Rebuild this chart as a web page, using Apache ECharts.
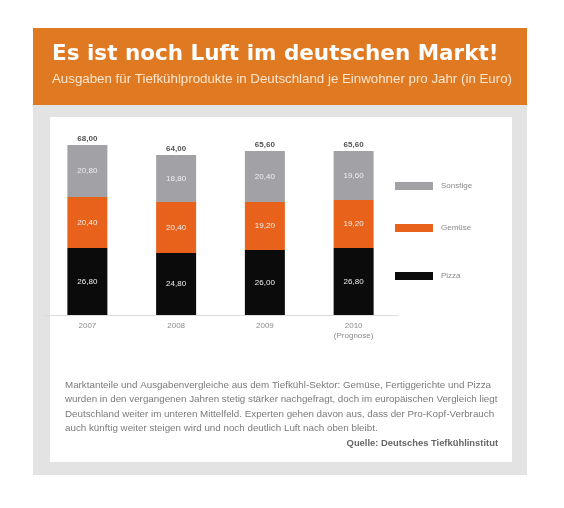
<!DOCTYPE html>
<html>
<head>
<meta charset="utf-8">
<script src="https://cdn.jsdelivr.net/npm/echarts@6/dist/echarts.min.js"></script>
<style>
  html, body { margin: 0; padding: 0; background: #fff; }
  #main { width: 564px; height: 508px; }
</style>
</head>
<body>
<div id="main"></div>
<script>
// Daten (Werte aus dem Bild geschätzt)
var jahre = ["2007", "2008", "2009", "2010\n(Prognose)"];
var pizza = [26.8, 24.8, 26.0, 26.8];
var gemuese = [20.4, 20.4, 19.2, 19.2];
var sonstige = [20.8, 18.8, 20.4, 19.6];
var legendeNamen = ["Sonstige", "Gemüse", "Pizza"];
var fussText = [
  "Marktanteile und Ausgabenvergleiche aus dem Tiefkühl-Sektor: Gemüse, Fertiggerichte und Pizza",
  "wurden in den vergangenen Jahren stetig stärker nachgefragt, doch im europäischen Vergleich liegt",
  "Deutschland weiter im unteren Mittelfeld. Experten gehen davon aus, dass der Pro-Kopf-Verbrauch",
  "auch künftig weiter steigen wird und noch deutlich Luft nach oben bleibt."
];
var quelle = "Quelle: Deutsches Tiefkühlinstitut";

var summen = pizza.map(function(v, i) { return v + gemuese[i] + sonstige[i]; });

function fmt(v) { return v.toFixed(2).replace(".", ","); }

var schrift = "Liberation Sans, Arial, sans-serif";
var myChart = echarts.init(document.getElementById("main"));

var graphics = [
  { type: "rect", shape: { x: 33, y: 28, width: 494, height: 447 }, style: { fill: "#e3e3e3" }, z: -10 },
  { type: "rect", shape: { x: 33, y: 28, width: 494, height: 77 }, style: { fill: "#e07a22" }, z: -9 },
  { type: "rect", shape: { x: 50, y: 117, width: 462, height: 345 }, style: { fill: "#ffffff" }, z: -9 },
  {
    type: "text", left: 52, top: 43, z: 10,
    style: { text: "Es ist noch Luft im deutschen Markt!", fill: "#fff", font: "bold 21.5px DejaVu Sans, sans-serif" }
  },
  {
    type: "text", left: 52, top: 73, z: 10,
    style: { text: "Ausgaben für Tiefkühlprodukte in Deutschland je Einwohner pro Jahr (in Euro)", fill: "#fde6cf", font: "13.3px " + schrift }
  }
];
fussText.forEach(function(t, i) {
  graphics.push({
    type: "text", left: 65, top: 380 + i * 14.5, z: 10,
    style: { text: t, fill: "#7a7a7a", font: "9.8px " + schrift }
  });
});
graphics.push({
  type: "text", right: 66, top: 439, z: 10,
  style: { text: quelle, fill: "#666", font: "bold 9.4px " + schrift }
});

function legende(name, top) {
  return {
    data: [name], left: 390, top: top, orient: "vertical",
    itemWidth: 38, itemHeight: 8, itemGap: 0, icon: "rect",
    selectedMode: false,
    textStyle: { color: "#8a8a8a", fontSize: 8, fontFamily: schrift, padding: [0, 0, 0, 3] }
  };
}

var innenLabel = {
  show: true, position: "inside", color: "#eeeeee", fontSize: 8, fontFamily: schrift,
  formatter: function(p) { return fmt(p.value); }
};

myChart.setOption({
  animation: false,
  graphic: graphics,
  legend: [
    legende(legendeNamen[0], 177),
    legende(legendeNamen[1], 219),
    legende(legendeNamen[2], 267)
  ],
  grid: { left: 43, width: 355, top: 115, bottom: 193 },
  xAxis: {
    type: "category",
    data: jahre,
    axisLine: { lineStyle: { color: "#dddddd" } },
    axisTick: { show: false },
    axisLabel: { color: "#8a8a8a", fontSize: 8, fontFamily: schrift, margin: 6, lineHeight: 10 }
  },
  yAxis: { type: "value", min: 0, max: 80, show: false, splitLine: { show: false } },
  series: [
    {
      name: legendeNamen[2], type: "bar", stack: "a", barWidth: 40,
      data: pizza, itemStyle: { color: "#0b0b0b" }, label: innenLabel
    },
    {
      name: legendeNamen[1], type: "bar", stack: "a", barWidth: 40,
      data: gemuese, itemStyle: { color: "#e8621c" }, label: innenLabel
    },
    {
      name: legendeNamen[0], type: "bar", stack: "a", barWidth: 40,
      data: sonstige, itemStyle: { color: "#a2a2a6" }, label: innenLabel
    },
    {
      name: "Summe", type: "bar", stack: "a", barWidth: 40,
      data: summen.map(function() { return 0; }),
      label: {
        show: true, position: "top", color: "#555", fontSize: 8, fontWeight: "bold", fontFamily: schrift,
        distance: 2,
        formatter: function(p) { return fmt(summen[p.dataIndex]); }
      }
    }
  ]
});
</script>
</body>
</html>
